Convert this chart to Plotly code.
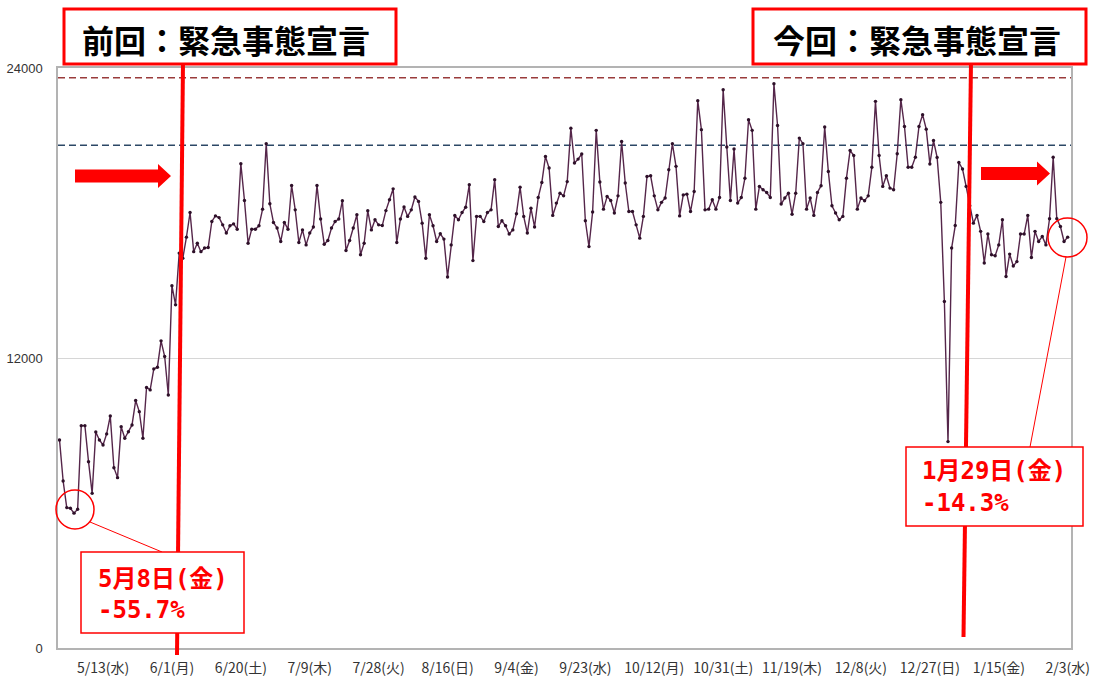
import pandas as pd
import plotly.graph_objects as go

# ---------------- data ----------------
start_date = "2020-05-01"
daily_values = [
    8610, 6910, 5810, 5780, 5580, 5740, 9200, 9200, 7710, 6400,
    8940, 8610, 8400, 8860, 9600, 7460, 7050, 9160, 8680, 8950,
    9230, 10240, 9780, 8680, 10780, 10680, 11550, 11620, 12710, 12060,
    10470, 14990, 14200, 16340, 16130, 17000, 18020, 16400, 16750, 16400,
    16550, 16570, 17650, 17880, 17810, 17510, 17170, 17470, 17550, 17330,
    20040,
    18520, 16750, 17330, 17330, 17470, 18160, 20870, 18380, 17610, 17380,
    16820, 17610, 17330, 19140, 18130, 16780, 17300, 16680, 17170, 17420,
    19140, 17750, 16710, 16860, 17380, 17650, 17750, 18510, 16450, 16860,
    17380, 17930, 16270, 16750, 18090, 17300, 17720, 17510, 17480, 18100,
    18550, 19000, 16780, 17750, 18250, 17860, 18130, 18660, 18480, 17580,
    16130, 17930, 17470, 16820, 17140, 16920, 15350,
    16680, 17900, 17720, 18020, 18240, 19170, 16030, 17860, 17860, 17650,
    18020, 18130, 19380, 17440, 17680, 17470, 17130, 17300, 17970, 19070,
    17860, 17170, 18200, 17420, 18640, 19260, 20340, 19860, 17900, 18410,
    18820, 18710, 19300, 21510, 20070, 20230, 20440, 17680, 16610, 18040,
    21420, 19280, 18160, 18680, 18520, 18000, 18710, 20960, 19240, 18060,
    18060, 17510, 16960, 17860, 19510, 19540, 18710, 18130,
    18440, 18620, 19790, 20870, 19930, 17880, 18750, 18780, 18060, 18890,
    22650, 21450, 18130, 18160, 18550, 18160, 18640, 23100, 20730, 18520,
    20650, 18410, 18640, 19440, 21860, 21420, 18160, 19100, 18960, 18850,
    18640, 23350, 21620, 18370, 18620, 18820, 17950, 18820, 21100, 20870,
    18160, 18620, 17900, 18850, 19130, 21560, 19720, 18300, 18000, 17720,
    17860, 19440, 20590, 20380, 18160, 18620, 18510, 18710,
    19890, 22620, 20380, 19100, 19540, 19030, 18960, 20450, 22690, 21580,
    19890, 19890, 20310, 21580, 22070, 21470, 20030, 21000, 20300, 18440,
    14340, 8540, 16550, 17480, 20090, 19820, 19100, 18300, 17580, 17900,
    17240, 15930, 17130, 16270, 16230, 16680, 17720, 15370, 16300, 15810,
    15990, 17130, 17130, 17900, 16160, 17240, 16820, 17030, 16680, 17760,
    20310, 17760, 17440, 16820, 17000,
]
dates = pd.date_range(start_date, periods=len(daily_values), freq="D")

tick_dates = ["2020-05-13", "2020-06-01", "2020-06-20", "2020-07-09", "2020-07-28",
              "2020-08-16", "2020-09-04", "2020-09-23", "2020-10-12", "2020-10-31",
              "2020-11-19", "2020-12-08", "2020-12-27", "2021-01-15", "2021-02-03"]
tick_labels = ["5/13(水)", "6/1(月)", "6/20(土)", "7/9(木)", "7/28(火)",
               "8/16(日)", "9/4(金)", "9/23(水)", "10/12(月)", "10/31(土)",
               "11/19(木)", "12/8(火)", "12/27(日)", "1/15(金)", "2/3(水)"]
y_ticks = [0, 12000, 24000]
y_tick_labels = ["0", "12000", "24000"]
ref_upper = 23600   # red dashed reference
ref_lower = 20800   # blue dashed reference

title_prev = "前回：緊急事態宣言"
title_curr = "今回：緊急事態宣言"
note_prev = ["5月8日(金)", "-55.7%"]
note_curr = ["1月29日(金)", "-14.3%"]

# ---------------- layout helpers (decoration only) ----------------
W, H = 1093, 681
ML, MR, MT, MB = 58, 22, 68, 33
PW, PH = W - ML - MR, H - MT - MB


def px(x):
    return (x - ML) / PW


def py(y):
    return (H - MB - y) / PH


RED = "#FF0000"

fig = go.Figure()
fig.add_trace(go.Scatter(
    x=dates, y=daily_values, mode="lines+markers",
    line=dict(color="#55264a", width=1.4),
    marker=dict(size=3.4, color="#2e1029"),
    hoverinfo="x+y", showlegend=False,
))

shapes = []
# reference dashed lines
shapes.append(dict(type="line", xref="paper", x0=0, x1=1, yref="y", y0=ref_upper, y1=ref_upper,
                   line=dict(color="#9a3b3b", width=1.5, dash="7px,4px"), layer="below"))
shapes.append(dict(type="line", xref="paper", x0=0, x1=1, yref="y", y0=ref_lower, y1=ref_lower,
                   line=dict(color="#2c4866", width=1.5, dash="7px,4px"), layer="below"))

# red vertical lines
shapes.append(dict(type="line", xref="paper", yref="paper",
                   x0=px(183), y0=py(62), x1=px(177), y1=py(655),
                   line=dict(color=RED, width=4)))
shapes.append(dict(type="line", xref="paper", yref="paper",
                   x0=px(971), y0=py(62), x1=px(963.5), y1=py(637),
                   line=dict(color=RED, width=4)))


def arrow_path(x0, xb, xt, yc, half_shaft, half_head):
    pts = [(x0, yc - half_shaft), (xb, yc - half_shaft), (xb, yc - half_head), (xt, yc),
           (xb, yc + half_head), (xb, yc + half_shaft), (x0, yc + half_shaft)]
    s = "M " + " L ".join(f"{px(a):.5f},{py(b):.5f}" for a, b in pts) + " Z"
    return s


shapes.append(dict(type="path", xref="paper", yref="paper",
                   path=arrow_path(75, 158, 171, 176, 6.5, 12),
                   fillcolor=RED, line=dict(width=0)))
shapes.append(dict(type="path", xref="paper", yref="paper",
                   path=arrow_path(981, 1037, 1050, 173.5, 6.5, 12),
                   fillcolor=RED, line=dict(width=0)))

# circles
shapes.append(dict(type="circle", xref="paper", yref="paper",
                   x0=px(56), x1=px(94), y0=py(529), y1=py(490),
                   line=dict(color=RED, width=1.5)))
shapes.append(dict(type="circle", xref="paper", yref="paper",
                   x0=px(1048), x1=px(1087), y0=py(257), y1=py(218),
                   line=dict(color=RED, width=1.5)))
# connectors
shapes.append(dict(type="line", xref="paper", yref="paper",
                   x0=px(90), y0=py(522), x1=px(162), y1=py(552),
                   line=dict(color=RED, width=1)))
shapes.append(dict(type="line", xref="paper", yref="paper",
                   x0=px(1066), y0=py(257), x1=px(1030), y1=py(447),
                   line=dict(color=RED, width=1)))
# note boxes
shapes.append(dict(type="rect", xref="paper", yref="paper",
                   x0=px(81), x1=px(244), y0=py(633), y1=py(552),
                   fillcolor="white", line=dict(color=RED, width=1.5)))
shapes.append(dict(type="rect", xref="paper", yref="paper",
                   x0=px(906), x1=px(1083), y0=py(526), y1=py(447),
                   fillcolor="white", line=dict(color=RED, width=1.5)))
# title boxes
shapes.append(dict(type="rect", xref="paper", yref="paper",
                   x0=px(64), x1=px(396), y0=py(64), y1=py(9),
                   fillcolor="white", line=dict(color=RED, width=3)))
shapes.append(dict(type="rect", xref="paper", yref="paper",
                   x0=px(753), x1=px(1086), y0=py(64), y1=py(9),
                   fillcolor="white", line=dict(color=RED, width=3)))

annotations = []
title_font = dict(family="Noto Sans CJK JP", size=32, color="black", weight="bold")
annotations.append(dict(xref="paper", yref="paper", x=px(226), y=py(39), text=title_prev,
                        showarrow=False, xanchor="center", yanchor="middle", font=title_font))
annotations.append(dict(xref="paper", yref="paper", x=px(917), y=py(39), text=title_curr,
                        showarrow=False, xanchor="center", yanchor="middle", font=title_font))

note_font = dict(family="DejaVu Sans Mono, Noto Sans CJK JP", size=24, color=RED, weight="bold")
for (tx, ty), line_text in zip([(96, 579), (96, 610)], note_prev):
    annotations.append(dict(xref="paper", yref="paper", x=px(tx), y=py(ty), text=line_text,
                            showarrow=False, xanchor="left", yanchor="middle", font=note_font))
for (tx, ty), line_text in zip([(920, 471), (920, 503)], note_curr):
    annotations.append(dict(xref="paper", yref="paper", x=px(tx), y=py(ty), text=line_text,
                            showarrow=False, xanchor="left", yanchor="middle", font=note_font))

fig.update_layout(
    width=W, height=H,
    margin=dict(l=ML, r=MR, t=MT, b=MB, pad=0, autoexpand=False),
    paper_bgcolor="white", plot_bgcolor="white",
    shapes=shapes, annotations=annotations,
    xaxis=dict(
        range=["2020-04-30 14:00", "2021-02-03 22:00"],
        tickmode="array", tickvals=tick_dates, ticktext=tick_labels,
        tickfont=dict(family="Noto Sans CJK JP", size=14, color="#333"),
        ticks="outside", ticklen=6, tickcolor="rgba(0,0,0,0)",
        showgrid=False, zeroline=False, automargin=False,
        showline=True, mirror=True, linecolor="#b3b3b3", linewidth=1.5,
    ),
    yaxis=dict(
        range=[0, 24000], tickmode="array", tickvals=y_ticks, ticktext=y_tick_labels,
        tickfont=dict(family="Liberation Sans, Arial", size=13, color="#333"),
        ticks="outside", ticklen=11, tickcolor="rgba(0,0,0,0)",
        showgrid=True, gridcolor="#d6d6d6", gridwidth=1, zeroline=False, automargin=False,
        showline=True, mirror=True, linecolor="#b3b3b3", linewidth=1.5,
    ),
)

fig.write_html(
    "out.html",
    config={"displayModeBar": False},
    post_script="document.body.style.margin='0';document.body.style.overflow='hidden';",
)
